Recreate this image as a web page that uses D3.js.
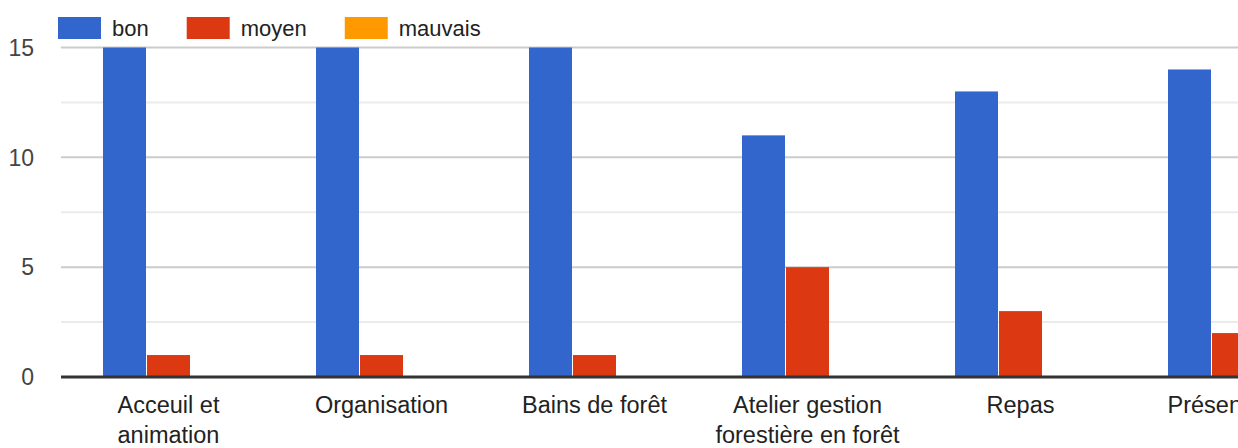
<!DOCTYPE html>
<html>
<head>
<meta charset="utf-8">
<script src="https://cdn.jsdelivr.net/npm/d3@7"></script>
<style>
  body { margin: 0; background: #fff; }
  svg { display: block; font-family: "Liberation Sans", Arial, sans-serif; }
</style>
</head>
<body>
<svg id="chart"></svg>
<script>
var categories = ["Acceuil et animation", "Organisation", "Bains de forêt",
                  "Atelier gestion forestière en forêt", "Repas", "Présentation"];
var series = ["bon", "moyen", "mauvais"];
var bon = [15, 15, 15, 11, 13, 14];
var moyen = [1, 1, 1, 5, 3, 2];
var mauvais = [0, 0, 0, 0, 0, 0];
var yTicks = [0, 5, 10, 15];
var yMinorTicks = [2.5, 7.5, 12.5];
var colors = ["#3366cc", "#dc3912", "#ff9900"];

var values = { bon: bon, moyen: moyen, mauvais: mauvais };

function drawChart() {
  var width = 1238;
  var height = 448;
  var left = 61;
  var step = 213;

  var svg = d3.select("#chart")
              .attr("width", width)
              .attr("height", height);

  // the chart is wider than the window, so the last group gets cut at the edge
  var x0 = d3.scaleBand()
             .domain(categories)
             .range([left + 1, left + 1 + step * categories.length])
             .paddingInner(0.385)
             .paddingOuter(0.1925);

  var x1 = d3.scaleBand()
             .domain(series)
             .range([0, x0.bandwidth()])
             .paddingInner(1 / 44);

  var y = d3.scaleLinear()
            .domain([0, 15])
            .range([377, 47.5]);

  var color = d3.scaleOrdinal()
                .domain(series)
                .range(colors);

  // gridlines
  svg.selectAll(".minor")
    .data(yMinorTicks)
    .enter()
    .append("line")
      .attr("x1", left)
      .attr("x2", width)
      .attr("y1", d => y(d))
      .attr("y2", d => y(d))
      .attr("stroke", "#ebebeb")
      .attr("stroke-width", 2);

  svg.selectAll(".major")
    .data(yTicks.filter(d => d > 0))
    .enter()
    .append("line")
      .attr("x1", left)
      .attr("x2", width)
      .attr("y1", d => y(d))
      .attr("y2", d => y(d))
      .attr("stroke", "#cccccc")
      .attr("stroke-width", 2);

  // y labels
  svg.selectAll(".ylabel")
    .data(yTicks)
    .enter()
    .append("text")
      .attr("x", 34)
      .attr("y", d => y(d))
      .attr("dy", "0.36em")
      .attr("text-anchor", "end")
      .attr("font-size", 23)
      .attr("fill", "#444")
      .text(d => d);

  // bars
  var groups = svg.selectAll(".group")
    .data(categories)
    .enter()
    .append("g")
      .attr("transform", d => "translate(" + x0(d) + ",0)");

  groups.selectAll("rect")
    .data((d, i) => series.map(s => ({ key: s, value: values[s][i] })))
    .enter()
    .append("rect")
      .attr("x", d => x1(d.key))
      .attr("width", x1.bandwidth())
      .attr("y", d => y(d.value))
      .attr("height", d => y(0) - y(d.value))
      .attr("fill", d => color(d.key));

  // baseline
  svg.append("line")
    .attr("x1", left)
    .attr("x2", width)
    .attr("y1", y(0))
    .attr("y2", y(0))
    .attr("stroke", "#333")
    .attr("stroke-width", 3);

  // x labels, wrapped
  var maxW = 200;
  svg.selectAll(".xlabel")
    .data(categories)
    .enter()
    .append("text")
      .attr("x", d => x0(d) + x0.bandwidth() / 2)
      .attr("y", 413)
      .attr("text-anchor", "middle")
      .attr("font-size", 23.5)
      .attr("fill", "#222")
      .each(function(d) {
        var text = d3.select(this);
        var words = d.split(" ");
        var line = [];
        var tspan = text.append("tspan").attr("x", text.attr("x"));
        words.forEach(function(w) {
          line.push(w);
          tspan.text(line.join(" "));
          if (tspan.node().getComputedTextLength() > maxW && line.length > 1) {
            line.pop();
            tspan.text(line.join(" "));
            line = [w];
            tspan = text.append("tspan")
                        .attr("x", text.attr("x"))
                        .attr("dy", 30)
                        .text(w);
          }
        });
      });

  // legend
  var legend = svg.append("g");
  var lx = 58;
  series.forEach(function(s) {
    legend.append("rect")
      .attr("x", lx)
      .attr("y", 17)
      .attr("width", 43)
      .attr("height", 22)
      .attr("fill", color(s));
    var t = legend.append("text")
      .attr("x", lx + 54)
      .attr("y", 28)
      .attr("dy", "0.36em")
      .attr("font-size", 22)
      .attr("fill", "#222")
      .text(s);
    lx = lx + 54 + t.node().getComputedTextLength() + 38;
  });
}

drawChart();
</script>
</body>
</html>
